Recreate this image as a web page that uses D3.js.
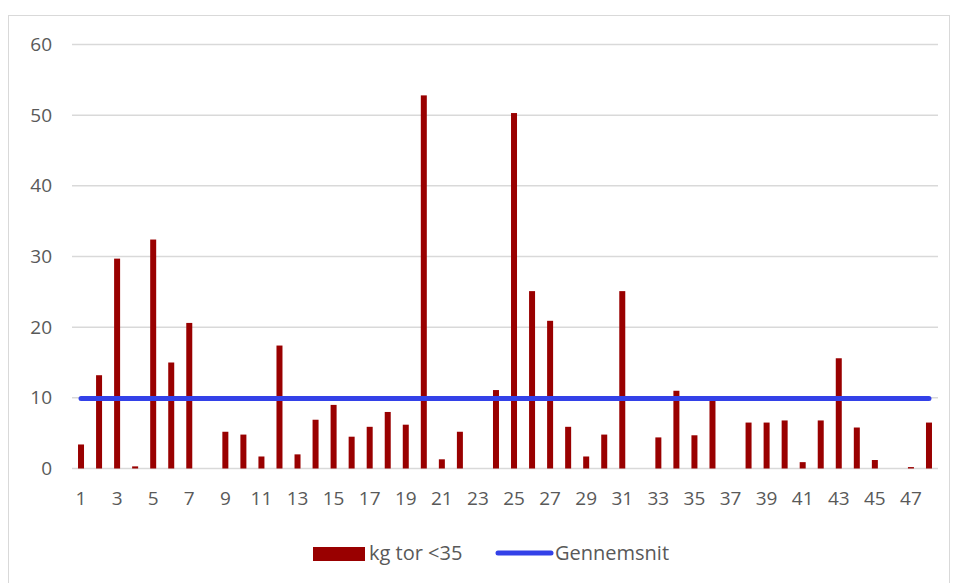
<!DOCTYPE html>
<html>
<head>
<meta charset="utf-8">
<script src="https://cdn.jsdelivr.net/npm/d3@7"></script>
<style>
  html, body { margin: 0; padding: 0; background: #fff; }
  svg { display: block; }
  text { font-family: "Open Sans", "Noto Sans", sans-serif; fill: #595959; }
</style>
</head>
<body>
<svg id="chart" width="955" height="583"></svg>
<script>
// Weekly catch, kg of cod under 35 cm, per week number
const weeks = d3.range(1, 49);
const kgTor = [
  3.4, 13.2, 29.7, 0.3, 32.4, 15.0, 20.6, 0, 5.2, 4.8, 1.7, 17.4, 2.0, 6.9, 9.0, 4.5,
  5.9, 8.0, 6.2, 52.8, 1.3, 5.2, 0, 11.1, 50.3, 25.1, 20.9, 5.9, 1.7, 4.8, 25.1, 0,
  4.4, 11.0, 4.7, 9.6, 0, 6.5, 6.5, 6.8, 0.9, 6.8, 15.6, 5.8, 1.2, 0, 0.2, 6.5
];
// Average line (Gennemsnit)
const gennemsnit = [
  9.9, 9.9, 9.9, 9.9, 9.9, 9.9, 9.9, 9.9, 9.9, 9.9, 9.9, 9.9, 9.9, 9.9, 9.9, 9.9,
  9.9, 9.9, 9.9, 9.9, 9.9, 9.9, 9.9, 9.9, 9.9, 9.9, 9.9, 9.9, 9.9, 9.9, 9.9, 9.9,
  9.9, 9.9, 9.9, 9.9, 9.9, 9.9, 9.9, 9.9, 9.9, 9.9, 9.9, 9.9, 9.9, 9.9, 9.9, 9.9
];
const yTicks = [0, 10, 20, 30, 40, 50, 60];
const seriesNames = ["kg tor <35", "Gennemsnit"];

const svg = d3.select("#chart");
const barColor = "#990000";
const lineColor = "#3341E8";
const gridColor = "#d9d9d9";
const fontStack = '"Open Sans", "Noto Sans", sans-serif';

// Chart frame
svg.append("rect")
  .attr("x", 8.5).attr("y", 15.5)
  .attr("width", 941).attr("height", 590)
  .attr("fill", "none").attr("stroke", "#d9d9d9").attr("stroke-width", 1);

const plotLeft = 72, plotRight = 938, plotTop = 44.5, plotBottom = 468.5;

const x = d3.scaleBand().domain(weeks).range([plotLeft, plotRight]).paddingInner(0).paddingOuter(0);
const y = d3.scaleLinear().domain([0, 60]).range([plotBottom, plotTop]);

// Gridlines
svg.append("g").selectAll("line").data(yTicks).join("line")
  .attr("x1", plotLeft).attr("x2", plotRight)
  .attr("y1", d => y(d)).attr("y2", d => y(d))
  .attr("stroke", gridColor).attr("stroke-width", 1.5);

// Y axis labels
const yAxis = d3.axisLeft(y).tickValues(yTicks).tickSize(0).tickPadding(0);
const yg = svg.append("g").attr("transform", `translate(${plotLeft - 20},0)`).call(yAxis);
yg.select(".domain").remove();
yg.selectAll("text").attr("font-size", 19).attr("fill", "#595959")
  .style("font-family", fontStack);

// Bars
const barW = 6;
svg.append("g").selectAll("rect").data(weeks).join("rect")
  .attr("x", (d) => x(d) + x.bandwidth() / 2 - barW / 2)
  .attr("width", barW)
  .attr("y", (d, i) => y(kgTor[i]))
  .attr("height", (d, i) => y(0) - y(kgTor[i]))
  .attr("fill", barColor);

// X axis labels (every second week)
const xAxis = d3.axisBottom(x).tickValues(weeks.filter(w => w % 2 === 1)).tickSize(0).tickPadding(0);
const xg = svg.append("g").attr("transform", `translate(0,${plotBottom + 23})`).call(xAxis);
xg.select(".domain").remove();
xg.selectAll("text").attr("font-size", 19).attr("fill", "#595959")
  .style("font-family", fontStack);

// Average line
const line = d3.line()
  .x((d, i) => x(weeks[i]) + x.bandwidth() / 2)
  .y(d => y(d));
svg.append("path").datum(gennemsnit)
  .attr("d", line)
  .attr("fill", "none")
  .attr("stroke", lineColor)
  .attr("stroke-width", 5)
  .attr("stroke-linecap", "round");

// Legend
const lg = svg.append("g");
lg.append("rect").attr("x", 313).attr("y", 547).attr("width", 52).attr("height", 14).attr("fill", barColor);
lg.append("text").attr("x", 369).attr("y", 560).attr("font-size", 20).text(seriesNames[0]);
lg.append("line").attr("x1", 498).attr("x2", 551).attr("y1", 553).attr("y2", 553)
  .attr("stroke", lineColor).attr("stroke-width", 5).attr("stroke-linecap", "round");
lg.append("text").attr("x", 555).attr("y", 560).attr("font-size", 20).text(seriesNames[1]);
</script>
</body>
</html>
